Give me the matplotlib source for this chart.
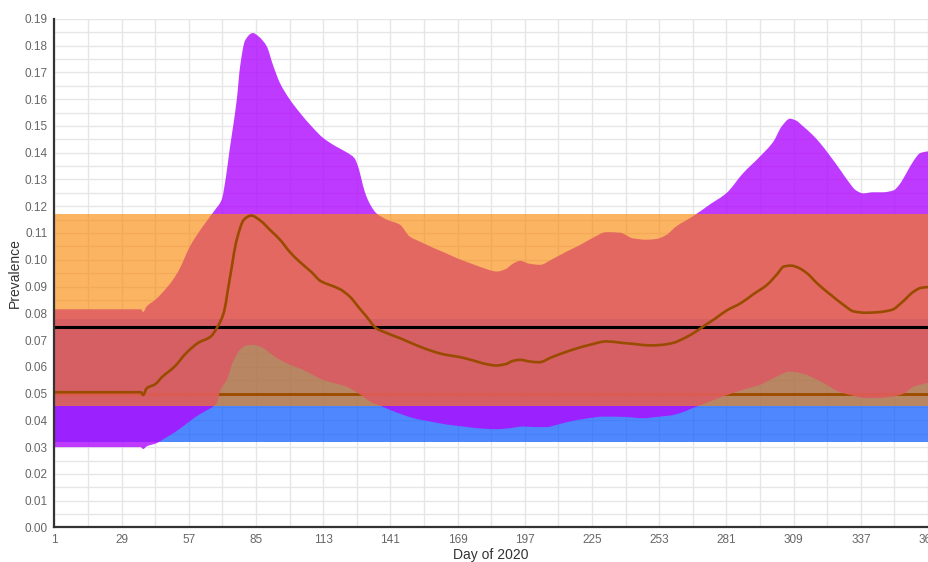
import numpy as np
import matplotlib
matplotlib.use("Agg")
from matplotlib import pyplot as plt
from matplotlib.path import Path
from matplotlib.patches import PathPatch

plt.rcParams['font.family'] = ['Liberation Sans', 'DejaVu Sans']

# Reference bands (prevalence)
blue_band = [0.032, 0.078]
orange_band = [0.0455, 0.117]
mean_line = 0.075
threshold = 0.050

# Median estimate
med_day = [1, 37, 38, 39.5, 43, 46, 51, 56, 61, 66, 69, 71.5, 74, 77, 80, 83, 87, 91, 95, 99,
           103, 108, 112, 116, 120, 124, 128, 131, 135, 139.5, 145, 152, 159, 164, 169, 175,
           181, 185, 189, 192, 195, 199, 203, 208, 213, 218, 224, 231, 237, 243, 249, 254,
           259, 263, 268, 272, 276, 281, 287, 292, 298, 302, 305, 308, 311, 314.5, 319, 325,
           330, 334, 339, 344, 350, 354, 359, 362, 365]
med_val = [0.0505, 0.0505, 0.0495, 0.052, 0.0535, 0.0563, 0.060, 0.0652, 0.069, 0.0712, 0.075,
           0.080, 0.0925, 0.1075, 0.115, 0.1165, 0.1145, 0.111, 0.1075, 0.103, 0.0994, 0.0955,
           0.092, 0.0905, 0.089, 0.0863, 0.082, 0.0788, 0.0745, 0.0726, 0.0707, 0.068, 0.0657,
           0.0645, 0.0638, 0.0625, 0.061, 0.0605, 0.061, 0.0622, 0.0626, 0.062, 0.0617, 0.0635,
           0.0652, 0.0667, 0.0682, 0.0695, 0.069, 0.0685, 0.068, 0.0682, 0.069, 0.0705, 0.073,
           0.0755, 0.0778, 0.081, 0.0838, 0.087, 0.0907, 0.0945, 0.0975, 0.0978, 0.097, 0.095,
           0.091, 0.0865, 0.083, 0.0807, 0.0802, 0.0804, 0.0813, 0.084, 0.0881, 0.0895, 0.0898]

# Upper bound of interval
up_day = [1, 37, 38, 39.5, 43, 46, 50, 53, 57.5, 62.8, 68, 70.7, 72.5, 74, 75.5, 77, 78.4, 80.5,
          83.7, 86, 89.5, 92, 95, 99, 103.4, 108, 113, 118, 123, 126, 128, 129.5, 131, 133, 135,
          139.5, 145, 149, 154, 159, 164, 168.7, 174, 178.5, 185.5, 189, 192, 195, 199, 203.4,
          208, 214.5, 220, 225, 231, 236.7, 242, 247.7, 252, 256, 260, 267, 274, 281, 288, 295,
          300.6, 304, 307.5, 310, 313, 316.5, 320, 324, 328.4, 332, 335, 338, 342, 346, 350.6,
          353, 356, 359, 361.8, 365]
up_val = [0.0815, 0.0815, 0.0805, 0.0826, 0.085, 0.0877, 0.092, 0.0963, 0.105, 0.1124, 0.1187,
          0.1224, 0.131, 0.141, 0.150, 0.1598, 0.1723, 0.182, 0.1847, 0.1835, 0.1797, 0.173,
          0.166, 0.160, 0.1548, 0.150, 0.1455, 0.1425, 0.140, 0.138, 0.1335, 0.128, 0.1237,
          0.120, 0.1175, 0.115, 0.1131, 0.1087, 0.1065, 0.1044, 0.1025, 0.1006, 0.0988, 0.0973,
          0.0956, 0.0965, 0.0985, 0.0996, 0.0985, 0.0981, 0.100, 0.1031, 0.1055, 0.108, 0.1103,
          0.1101, 0.108, 0.1075, 0.1078, 0.1093, 0.1124, 0.1162, 0.1206, 0.1249, 0.1324, 0.1386,
          0.1442, 0.1498, 0.1527, 0.152, 0.1498, 0.147, 0.1436, 0.139, 0.1336, 0.129, 0.1259,
          0.1248, 0.1252, 0.1252, 0.1259, 0.128, 0.1324, 0.137, 0.1399, 0.1405]

# Lower bound of interval
lo_day = [1, 37, 38, 39.5, 43.7, 47, 50.6, 55, 60, 64, 67.2, 68.7, 70, 72.8, 75.5, 78.4, 81, 84,
          88, 91, 95, 100, 104.6, 109, 113, 118, 122.8, 126, 129.6, 133, 136.7, 140.9, 146.5,
          152, 157.5, 164, 171.4, 178, 185.3, 190, 196.4, 201, 206, 211, 215.9, 222, 229.8, 238,
          246.4, 253, 257.5, 261.7, 267, 274, 283.7, 290, 295, 302, 307.5, 313, 318, 322.7, 327,
          332.4, 339.4, 345, 350.5, 355, 359, 364.5, 365]
lo_val = [0.0300, 0.0300, 0.0293, 0.0303, 0.0315, 0.0333, 0.0352, 0.038, 0.0414, 0.0435, 0.0452,
          0.0464, 0.0510, 0.0551, 0.062, 0.0664, 0.0680, 0.0682, 0.067, 0.065, 0.0626, 0.0605,
          0.0589, 0.0568, 0.0551, 0.0538, 0.0526, 0.051, 0.0489, 0.0468, 0.0455, 0.0439, 0.042,
          0.0405, 0.0396, 0.0385, 0.0377, 0.037, 0.0367, 0.037, 0.0377, 0.0375, 0.0375, 0.0385,
          0.0396, 0.0406, 0.0414, 0.0413, 0.0408, 0.0414, 0.0418, 0.0427, 0.0446, 0.047, 0.0502,
          0.052, 0.0533, 0.0564, 0.0582, 0.0574, 0.0555, 0.0533, 0.051, 0.0495, 0.0483, 0.0484,
          0.0489, 0.050, 0.0526, 0.0539, 0.054]

x_ticks = list(range(1, 366, 28))
y_ticks = [i / 100 for i in range(0, 20)]

brown = (153/255, 76/255, 0)


def curve_verts(xs, ys):
    # monotone cubic (like chart.js cubicInterpolationMode) as bezier vertices
    x = np.asarray(xs, float)
    y = np.asarray(ys, float)
    h = np.diff(x)
    d = np.diff(y) / h
    m = np.zeros_like(x)
    m[0], m[-1] = d[0], d[-1]
    for i in range(1, len(x) - 1):
        if d[i - 1] * d[i] > 0:
            m[i] = 3 * (h[i - 1] + h[i]) / ((2 * h[i] + h[i - 1]) / d[i - 1] + (h[i] + 2 * h[i - 1]) / d[i])
    verts = [(x[0], y[0])]
    for i in range(len(h)):
        verts.append((x[i] + h[i] / 3, y[i] + m[i] * h[i] / 3))
        verts.append((x[i + 1] - h[i] / 3, y[i + 1] - m[i + 1] * h[i] / 3))
        verts.append((x[i + 1], y[i + 1]))
    return verts


def curve_codes(n_verts):
    return [Path.MOVETO] + [Path.CURVE4] * (n_verts - 1)


fig = plt.figure(figsize=(9.29, 5.62), dpi=100)
ax = fig.add_axes([0.0585, 0.0615, 0.9405, 0.905])
ax.set_xlim(1, 365)
ax.set_ylim(0, 0.19)

# grid
ax.set_xticks(x_ticks)
ax.set_xticks(list(range(15, 366, 28)), minor=True)
ax.set_yticks(y_ticks)
ax.set_yticks([i / 1000 + 0.005 for i in range(0, 190, 10)], minor=True)
ax.grid(True, which='both', color='#e6e6e6', linewidth=1.0, zorder=0)
ax.set_axisbelow(True)

# bands and interval
ax.axhspan(blue_band[0], blue_band[1], color=(4/255, 85/255, 255/255), alpha=0.7, lw=0, zorder=1)
ax.axhline(threshold, color=brown, linewidth=2.0, zorder=2)

up_v = curve_verts(up_day, up_val)
lo_v = curve_verts(lo_day, lo_val)
band_verts = up_v + [lo_v[-1]] + lo_v[::-1][1:] + [up_v[0]]
band_codes = curve_codes(len(up_v)) + [Path.LINETO] + [Path.CURVE4] * (len(lo_v) - 1) + [Path.CLOSEPOLY]
ax.add_patch(PathPatch(Path(band_verts, band_codes), fc=(175/255, 9/255, 255/255),
                       alpha=0.8, lw=0, zorder=3))

ax.axhspan(orange_band[0], orange_band[1], color=(250/255, 134/255, 2/255), alpha=0.62, lw=0, zorder=4)

# threshold shown clearly where whole interval lies above it
below_verts = lo_v + [(lo_day[-1], 0), (lo_day[0], 0), lo_v[0]]
below_codes = curve_codes(len(lo_v)) + [Path.LINETO, Path.LINETO, Path.CLOSEPOLY]
below = PathPatch(Path(below_verts, below_codes), fc='none', ec='none', transform=ax.transData)
ax.add_patch(below)
thr = ax.axhline(threshold, color=brown, linewidth=2.0, zorder=5)
thr.set_clip_path(below)

ax.axhline(mean_line, color='black', linewidth=2.2, zorder=6)
med_v = curve_verts(med_day, med_val)
ax.add_patch(PathPatch(Path(med_v, curve_codes(len(med_v))), fc='none', ec=brown,
                       lw=1.9, zorder=7))

for s in ['top', 'right']:
    ax.spines[s].set_visible(False)
for s in ['left', 'bottom']:
    ax.spines[s].set_color('#333333')
    ax.spines[s].set_linewidth(1.6)
    ax.spines[s].set_zorder(8)

ax.set_xticklabels([str(t) for t in x_ticks])
ax.set_yticklabels(['%.2f' % t for t in y_ticks])
ax.tick_params(which='both', length=0, labelsize=8.5, labelcolor='#666666')
ax.tick_params(axis='y', pad=5)
ax.tick_params(axis='x', pad=5)

ax.set_xlabel("Day of 2020", fontsize=10, color='#333333', labelpad=1)
ax.set_ylabel("Prevalence", fontsize=10, color='#333333', labelpad=2)

fig.savefig("out.png", dpi=100)
